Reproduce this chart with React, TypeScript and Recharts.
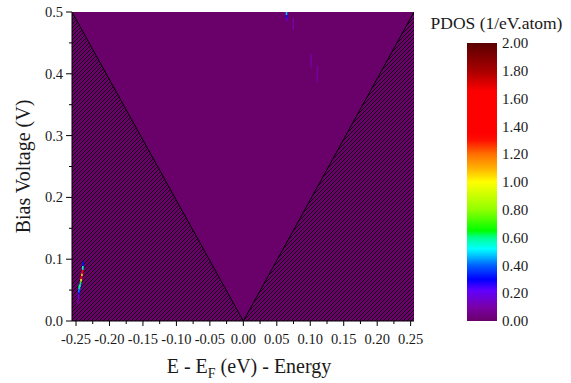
import React from 'react';
import { ComposedChart, Area, XAxis, YAxis, CartesianGrid, ReferenceArea } from 'recharts';

// Axis ranges and tick values
const energyDomain: [number, number] = [-0.256, 0.255];
const biasDomain: [number, number] = [0, 0.5];
const energyTicks = [-0.25, -0.2, -0.15, -0.1, -0.05, 0, 0.05, 0.1, 0.15, 0.2, 0.25];
const energyMinorTicks = [-0.225, -0.175, -0.125, -0.075, -0.025, 0.025, 0.075, 0.125, 0.175, 0.225];
const biasTicks = [0, 0.1, 0.2, 0.3, 0.4, 0.5];
const biasMinorTicks = [0.05, 0.15, 0.25, 0.35, 0.45];

// Edge of the bias window: states outside |E| < V are hatched
const windowEdge = [
  { e: -0.256, v: 0.5 },
  { e: 0, v: 0 },
  { e: 0.255, v: 0.5 },
];

// Colour scale for PDOS (1/eV.atom)
const pdosTicks = [0, 0.2, 0.4, 0.6, 0.8, 1.0, 1.2, 1.4, 1.6, 1.8, 2.0];
const cmapValues = [0, 0.1, 0.22, 0.3, 0.4, 0.48, 0.52, 0.6, 0.65, 0.8, 1.0, 1.1, 1.2, 1.3, 1.35, 1.65, 1.8, 2.0];
const cmapColors = [
  '#6a006a', '#7a00a8', '#6000ff', '#0000ff', '#0060ff', '#00d0ff', '#00ffff', '#00ff90', '#00ff00',
  '#90ff00', '#ffff00', '#ffb000', '#ff7000', '#ff1000', '#ff0000', '#ff0000', '#a80000', '#5a0000',
];

// Non-zero PDOS cells: centre energy, bias range, PDOS value
const cellEnergy = [
  -0.247, -0.2462, -0.2452, -0.2445, -0.244, -0.2432, -0.2425, -0.2418, -0.2412, -0.2405, -0.2398, -0.2392,
  -0.2458, -0.2452,
  0.0645, 0.0645, 0.0645, 0.0746, 0.101, 0.1105,
];
const cellBiasLow = [
  0.028, 0.036, 0.044, 0.05, 0.055, 0.06, 0.064, 0.068, 0.073, 0.077, 0.083, 0.089,
  0.046, 0.052,
  0.495, 0.49, 0.486, 0.471, 0.41, 0.386,
];
const cellBiasHigh = [
  0.036, 0.044, 0.05, 0.055, 0.06, 0.064, 0.068, 0.073, 0.077, 0.083, 0.089, 0.096,
  0.052, 0.058,
  0.5, 0.495, 0.49, 0.49, 0.432, 0.413,
];
const cellPdos = [
  0.1, 0.18, 0.3, 0.4, 0.5, 0.62, 0.95, 1.45, 1.05, 1.4, 0.55, 0.32,
  0.42, 0.6,
  0.47, 0.32, 0.2, 0.1, 0.08, 0.08,
];
const CELL_HALF_WIDTH = 0.0012;

const FONT = '"Liberation Serif", "Times New Roman", Times, serif';
const TEXT = '#1a1a1a';
const BASE = '#6a006a';

const textStyle = (size: number): React.CSSProperties => ({ fontFamily: FONT, fontSize: size, fill: TEXT });

const hexToRgb = (h: string) => [1, 3, 5].map((i) => parseInt(h.slice(i, i + 2), 16));

const pdosColor = (z: number) => {
  for (let i = 1; i < cmapValues.length; i++) {
    if (z <= cmapValues[i]) {
      const t = (z - cmapValues[i - 1]) / (cmapValues[i] - cmapValues[i - 1]);
      const a = hexToRgb(cmapColors[i - 1]);
      const b = hexToRgb(cmapColors[i]);
      const c = a.map((av, k) => Math.round(av + (b[k] - av) * t));
      return `rgb(${c[0]},${c[1]},${c[2]})`;
    }
  }
  return cmapColors[cmapColors.length - 1];
};

const isMajor = (v: number, step: number) => Math.abs(v / step - Math.round(v / step)) < 1e-6;

const EnergyTick = (props: any) => {
  const { x, y, payload } = props;
  const v = payload.value as number;
  const major = isMajor(v, 0.05);
  return (
    <g>
      <line x1={x} x2={x} y1={y} y2={y + (major ? 5 : 3)} stroke="#000" strokeWidth={1} />
      {major && (
        <text x={x} y={y + 23} textAnchor="middle" style={textStyle(14.5)}>
          {v.toFixed(2)}
        </text>
      )}
    </g>
  );
};

const BiasTick = (props: any) => {
  const { x, y, payload } = props;
  const v = payload.value as number;
  const major = isMajor(v, 0.1);
  return (
    <g>
      <line x1={x - (major ? 6 : 3)} x2={x} y1={y} y2={y} stroke="#000" strokeWidth={1} />
      {major && (
        <text x={x - 9} y={y} dy="0.35em" textAnchor="end" style={textStyle(14.5)}>
          {v.toFixed(1)}
        </text>
      )}
    </g>
  );
};

const PdosTick = (props: any) => {
  const { x, y, payload } = props;
  return (
    <text x={x + 5} y={y} dy="0.35em" textAnchor="start" style={textStyle(15)}>
      {(payload.value as number).toFixed(2)}
    </text>
  );
};

const EnergyTitle = (props: any) => {
  const { viewBox } = props;
  const cx = viewBox.x + viewBox.width / 2 + 6;
  return (
    <text x={cx} y={viewBox.y + 52} textAnchor="middle" style={textStyle(20)}>
      E - E
      <tspan dy={5} style={{ fontSize: 14 }}>F</tspan>
      <tspan dy={-5}> (eV) - Energy</tspan>
    </text>
  );
};

const BiasTitle = (props: any) => {
  const { viewBox } = props;
  const cy = viewBox.y + viewBox.height / 2;
  const cx = 23;
  return (
    <text
      x={cx}
      y={cy}
      dy="0.35em"
      transform={`rotate(-90 ${cx} ${cy})`}
      textAnchor="middle"
      style={textStyle(20)}
    >
      Bias Voltage (V)
    </text>
  );
};

const scaleRows = pdosTicks.map((z) => ({ pos: 0.5, z }));

export default function App() {
  const allEnergyTicks = [...energyTicks, ...energyMinorTicks].sort((a, b) => a - b);
  const allBiasTicks = [...biasTicks, ...biasMinorTicks].sort((a, b) => a - b);

  return (
    <div style={{ position: 'absolute', left: 0, top: 0, width: 571, height: 383, background: '#fff' }}>
      <div style={{ position: 'absolute', left: 0, top: 0 }}>
        <ComposedChart
          width={571}
          height={383}
          data={windowEdge}
          margin={{ top: 12, right: 157, bottom: 0, left: 0 }}
        >
          <defs>
            <pattern id="outsideWindow" width={4} height={4} patternUnits="userSpaceOnUse">
              <rect x={0} y={0} width={4} height={4} fill={BASE} />
              <path d="M-1,1 L1,-1 M0,4 L4,0 M3,5 L5,3" stroke="#000" strokeWidth={0.85} />
            </pattern>
          </defs>
          <CartesianGrid fill={BASE} stroke="none" horizontal={false} vertical={false} />
          <XAxis
            dataKey="e"
            type="number"
            domain={energyDomain}
            ticks={allEnergyTicks}
            interval={0}
            tick={<EnergyTick />}
            tickLine={false}
            tickSize={0}
            tickMargin={0}
            height={62}
            axisLine={{ stroke: '#000', strokeWidth: 1 }}
            allowDataOverflow
            label={<EnergyTitle />}
          />
          <XAxis
            xAxisId="top"
            orientation="top"
            type="number"
            domain={energyDomain}
            height={0}
            tick={false}
            tickLine={false}
            axisLine={{ stroke: '#000', strokeWidth: 1 }}
            allowDataOverflow
          />
          <YAxis
            dataKey="v"
            type="number"
            domain={biasDomain}
            ticks={allBiasTicks}
            interval={0}
            tick={<BiasTick />}
            tickLine={false}
            tickSize={0}
            tickMargin={0}
            width={72}
            axisLine={{ stroke: '#000', strokeWidth: 1 }}
            allowDataOverflow
            label={<BiasTitle />}
          />
          <YAxis
            yAxisId="right"
            orientation="right"
            type="number"
            domain={biasDomain}
            width={0}
            tick={false}
            tickLine={false}
            axisLine={{ stroke: '#000', strokeWidth: 1 }}
            allowDataOverflow
          />
          <Area
            type="linear"
            dataKey="v"
            stroke="#000"
            strokeWidth={1}
            fill="url(#outsideWindow)"
            fillOpacity={1}
            isAnimationActive={false}
            dot={false}
            activeDot={false}
          />
          {cellEnergy.map((e, i) => (
            <ReferenceArea
              key={i}
              x1={e - CELL_HALF_WIDTH}
              x2={e + CELL_HALF_WIDTH}
              y1={cellBiasLow[i]}
              y2={cellBiasHigh[i]}
              fill={pdosColor(cellPdos[i])}
              fillOpacity={1}
              stroke="none"
              zIndex={650}
            />
          ))}
        </ComposedChart>
      </div>
      <div style={{ position: 'absolute', left: 400, top: 0 }}>
        <ComposedChart
          width={171}
          height={383}
          data={scaleRows}
          margin={{ top: 43, right: 0, bottom: 62, left: 67 }}
        >
          <defs>
            <linearGradient id="pdosScale" x1={0} y1={1} x2={0} y2={0}>
              {cmapValues.map((v, i) => (
                <stop key={i} offset={v / 2} stopColor={cmapColors[i]} />
              ))}
            </linearGradient>
          </defs>
          <CartesianGrid fill="url(#pdosScale)" stroke="none" horizontal={false} vertical={false} />
          <XAxis dataKey="pos" type="number" domain={[0, 1]} hide />
          <YAxis
            dataKey="z"
            orientation="right"
            type="number"
            domain={[0, 2]}
            ticks={pdosTicks}
            interval={0}
            tick={<PdosTick />}
            tickLine={false}
            tickSize={0}
            tickMargin={0}
            axisLine={false}
            width={74}
          />
          <text x={96.5} y={29} textAnchor="middle" style={textStyle(17.5)}>
            PDOS (1/eV.atom)
          </text>
        </ComposedChart>
      </div>
    </div>
  );
}
